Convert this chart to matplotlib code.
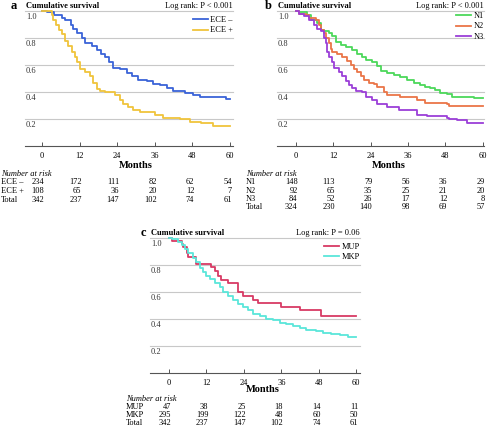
import matplotlib
matplotlib.use('Agg')
import matplotlib.pyplot as plt
from matplotlib import transforms

plt.rcParams['font.family'] = ['Liberation Serif', 'DejaVu Serif']

# ---- data ----
months = [0, 12, 24, 36, 48, 60]

# panel a: extracapsular extension
ece_neg_t = [0, 1.4, 3.8, 6.2, 7.2, 9.2, 9.9, 11.2, 12.6, 13.6, 15.8, 17.4, 18.8, 20.0, 21.4,
             22.7, 24.8, 27.0, 28.6, 30.7, 33.4, 35.5, 37.6, 39.8, 41.9, 45.6, 48.3, 50.4, 58.9, 60]
ece_neg_s = [1.0, 0.99, 0.97, 0.95, 0.93, 0.90, 0.87, 0.84, 0.80, 0.76, 0.74, 0.71, 0.68, 0.66, 0.62,
             0.58, 0.57, 0.54, 0.52, 0.49, 0.48, 0.46, 0.45, 0.43, 0.41, 0.39, 0.38, 0.36, 0.35, 0.35]
ece_pos_t = [0, 3.0, 3.5, 4.4, 5.4, 6.2, 7.2, 8.3, 9.4, 10.4, 11.2, 12.0, 13.6, 15.2, 16.3, 17.4,
             18.4, 20.0, 23.2, 24.8, 25.9, 27.5, 29.1, 31.2, 36.0, 38.7, 44.0, 47.2, 50.9, 54.7, 60]
ece_pos_s = [1.0, 0.97, 0.93, 0.90, 0.86, 0.83, 0.78, 0.74, 0.70, 0.66, 0.62, 0.57, 0.55, 0.52, 0.47, 0.42,
             0.41, 0.40, 0.38, 0.34, 0.31, 0.29, 0.27, 0.25, 0.23, 0.21, 0.20, 0.18, 0.17, 0.15, 0.15]

# panel b: nodal stage
n1_t = [0, 1.1, 3.7, 4.8, 6.9, 8.0, 9.1, 10.7, 11.7, 12.8, 14.4, 16.0, 18.1, 19.8, 21.4, 22.4, 24.6,
        26.2, 27.2, 29.4, 31.5, 33.6, 35.8, 37.9, 40.0, 41.6, 43.2, 44.8, 46.4, 48.6, 50.2, 57.1, 60]
n1_s = [1.0, 0.99, 0.97, 0.93, 0.91, 0.86, 0.85, 0.835, 0.815, 0.77, 0.75, 0.735, 0.71, 0.68, 0.66, 0.64, 0.625,
        0.59, 0.555, 0.54, 0.525, 0.51, 0.49, 0.47, 0.45, 0.435, 0.427, 0.415, 0.395, 0.385, 0.365, 0.355, 0.355]
n2_t = [0, 1.1, 3.2, 4.3, 6.4, 7.5, 8.0, 9.1, 9.6, 10.7, 11.2, 11.7, 13.3, 14.9, 16.5, 17.6, 18.7,
        19.8, 20.8, 21.9, 23.5, 25.1, 26.2, 28.3, 29.4, 33.6, 39.0, 41.6, 48.6, 49.1, 60]
n2_s = [1.0, 0.98, 0.97, 0.95, 0.93, 0.90, 0.86, 0.84, 0.80, 0.76, 0.72, 0.70, 0.68, 0.66, 0.63, 0.60, 0.57,
        0.55, 0.52, 0.49, 0.47, 0.46, 0.44, 0.40, 0.38, 0.36, 0.34, 0.32, 0.31, 0.30, 0.30]
n3_t = [0, 1.1, 2.7, 4.3, 5.9, 6.9, 8.0, 9.1, 9.6, 10.1, 10.7, 11.7, 12.3, 13.9, 14.9, 16.0, 17.1,
        18.1, 19.2, 21.4, 22.4, 24.6, 26.2, 29.4, 33.1, 39.0, 42.2, 48.6, 49.1, 51.8, 55.0, 60]
n3_s = [1.0, 0.98, 0.96, 0.93, 0.90, 0.87, 0.85, 0.80, 0.76, 0.70, 0.66, 0.62, 0.58, 0.55, 0.52, 0.48, 0.45,
        0.43, 0.41, 0.40, 0.36, 0.34, 0.31, 0.29, 0.27, 0.23, 0.22, 0.21, 0.20, 0.19, 0.17, 0.17]

# panel c: MUP vs MKP
mup_t = [0, 0.85, 4.0, 4.6, 5.6, 6.2, 8.8, 13.6, 14.7, 15.8, 16.8, 19.0, 22.2, 23.8, 27.0, 28.6,
         36.0, 41.9, 48.8, 60]
mup_s = [1.0, 0.98, 0.955, 0.93, 0.89, 0.857, 0.81, 0.785, 0.753, 0.72, 0.69, 0.667, 0.60, 0.568,
         0.543, 0.52, 0.49, 0.464, 0.425, 0.425]
mkp_t = [0, 0.85, 3.0, 4.0, 5.1, 6.2, 7.8, 8.8, 9.9, 11.0, 12.0, 13.1, 14.7, 16.3, 17.4, 19.0, 20.6,
         22.2, 23.8, 25.4, 27.0, 29.1, 31.2, 33.4, 35.5, 37.6, 39.8, 41.9, 44.0, 47.2, 49.3, 52.0,
         54.7, 57.3, 60]
mkp_s = [1.0, 0.99, 0.97, 0.95, 0.92, 0.89, 0.85, 0.82, 0.78, 0.75, 0.72, 0.70, 0.67, 0.64, 0.60, 0.57, 0.54,
         0.51, 0.49, 0.47, 0.44, 0.42, 0.40, 0.39, 0.37, 0.36, 0.35, 0.33, 0.32, 0.31, 0.30, 0.29,
         0.28, 0.27, 0.27]

risk_a_labels = ['ECE \u2013', 'ECE +', 'Total']
risk_a = [[234, 172, 111, 82, 62, 54], [108, 65, 36, 20, 12, 7], [342, 237, 147, 102, 74, 61]]
risk_b_labels = ['N1', 'N2', 'N3', 'Total']
risk_b = [[148, 113, 79, 56, 36, 29], [92, 65, 35, 25, 21, 20], [84, 52, 26, 17, 12, 8],
          [324, 230, 140, 98, 69, 57]]
risk_c_labels = ['MUP', 'MKP', 'Total']
risk_c = [[47, 38, 25, 18, 14, 11], [295, 199, 122, 48, 60, 50], [342, 237, 147, 102, 74, 61]]

W, H = 488, 429
fig = plt.figure(figsize=(W / 100, H / 100), dpi=100)
FS = 6


def px_axes(left, top, right, bottom):
    return fig.add_axes([left / W, 1 - bottom / H, (right - left) / W, (bottom - top) / H])


def km_panel(ax, letter, letter_x, ptext, series, xlim, leg_top, label_x, title_y, risk_labels,
             risk_rows, months_y, nar_y, row_ys):
    ax.set_xlim(*xlim)
    ax.set_ylim(0, 1.0)
    for v in [0.2, 0.4, 0.6, 0.8, 1.0]:
        ax.axhline(v, color='#c8c8c8', lw=0.8, zorder=0, clip_on=False)
        ax.text(0.004, v - 0.018, f'{v:.1f}', transform=transforms.blended_transform_factory(ax.transAxes, ax.transData),
                ha='left', va='top', fontsize=FS, color='#333333')
    for t, s, col, lab in series:
        ax.step(t, s, where='post', color=col, lw=1.3, label=lab, clip_on=False)
    for sp in ['top', 'right', 'left']:
        ax.spines[sp].set_visible(False)
    ax.spines['bottom'].set_color('#555555')
    ax.spines['bottom'].set_linewidth(0.8)
    ax.set_yticks([])
    ax.set_xticks(months)
    ax.tick_params(axis='x', direction='in', length=3, width=0.7, color='#555555', labelsize=FS, pad=4)
    ax.legend(loc='upper right', bbox_to_anchor=(1.0, leg_top), frameon=False, fontsize=FS,
              handlelength=1.8, handletextpad=0.3, labelspacing=0.25, borderaxespad=0, borderpad=0)

    figy = lambda ypx: 1 - ypx / H
    tb = transforms.blended_transform_factory(ax.transData, fig.transFigure)
    bb = ax.get_position()
    fig.text(letter_x / W, figy(title_y), letter, fontsize=9, fontweight='bold', ha='center', va='center')
    fig.text(bb.x0 + 1 / W, figy(title_y), 'Cumulative survival', fontsize=FS, fontweight='bold',
             ha='left', va='center')
    fig.text(bb.x1, figy(title_y), ptext, fontsize=FS, ha='right', va='center')
    ax.text(30, figy(months_y), 'Months', transform=tb, fontsize=7.5, fontweight='bold', ha='center', va='center')
    fig.text(label_x / W, figy(nar_y), 'Number at risk', fontsize=FS, style='italic', ha='left', va='center')
    for lab, row, ry in zip(risk_labels, risk_rows, row_ys):
        fig.text(label_x / W, figy(ry), lab, fontsize=FS, ha='left', va='center')
        for m, n in zip(months, row):
            ax.text(m + 0.6, figy(ry), str(n), transform=tb, fontsize=FS, ha='right', va='center')


ax_a = px_axes(25, 11, 233, 146)
km_panel(ax_a, 'a', 14, 'Log rank: P < 0.001',
         [(ece_neg_t, ece_neg_s, '#3a63d8', 'ECE \u2013'), (ece_pos_t, ece_pos_s, '#f0c43c', 'ECE +')],
         (-5.5, 61), 0.96, 1, 6, risk_a_labels, risk_a, 165, 174, [182.3, 191, 199.7])

ax_b = px_axes(277, 11, 484, 146)
km_panel(ax_b, 'b', 268, 'Log rank: P < 0.001',
         [(n1_t, n1_s, '#4cd85a', 'N1'), (n2_t, n2_s, '#ea7548', 'N2'), (n3_t, n3_s, '#9b3fd8', 'N3')],
         (-6.0, 60.4), 0.99, 246, 6, risk_b_labels, risk_b, 165, 174, [182.3, 190.6, 199, 207.3])

ax_c = px_axes(150, 238, 360, 373)
km_panel(ax_c, 'c', 143, 'Log rank: P = 0.06',
         [(mup_t, mup_s, '#d83a64', 'MUP'), (mkp_t, mkp_s, '#5ae6da', 'MKP')],
         (-6.1, 61.2), 0.965, 126, 233, risk_c_labels, risk_c, 390, 399, [407.3, 415, 422.7])

fig.savefig('out.png', dpi=100)
